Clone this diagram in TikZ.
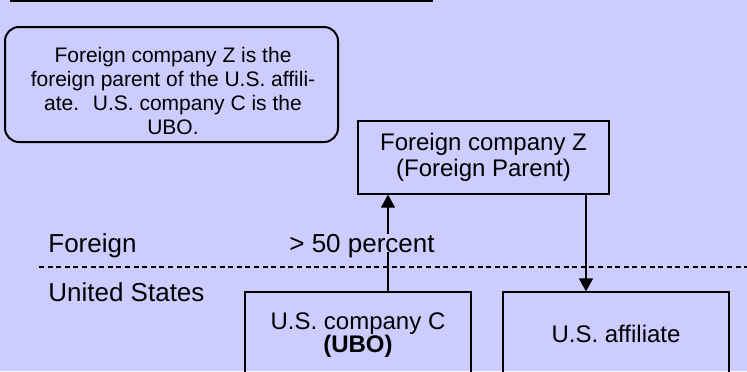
\documentclass[tikz,border=0pt]{standalone}
\usepackage{fontspec}
\setmainfont{Liberation Sans}
\usetikzlibrary{arrows.meta,positioning,calc}
\definecolor{bgblue}{RGB}{204,204,255}

\begin{document}
\begin{tikzpicture}[x=0.5pt,y=-0.5pt,
 firmbox/.style={draw,line width=0.6pt,inner sep=0pt,align=center,font=\fontsize{12}{13.2}\selectfont},
 lbl/.style={inner sep=0pt,font=\fontsize{13}{15}\selectfont},
 arr/.style={line width=0.6pt,-{Triangle[length=6.5pt,width=7pt]}}]
\fill[bgblue] (0,0) rectangle (747,371);
\useasboundingbox (0,0) rectangle (747,371);
\clip (0,0) rectangle (747,371);
\draw[line width=1.5pt] (10,0) -- (433,0);
% note box
\node[draw,line width=1pt,rounded corners=7pt,minimum width=166.5pt,minimum height=57.5pt] (note) at (171.5,84.5) {};
\node[align=center,inner sep=0pt,font=\fontsize{10.5}{12}\selectfont] (notetxt) at (173,90.5) {Foreign company Z is the\\foreign parent of the U.S. affili-\\ate.~ U.S. company C is the\\UBO.};
% firms
\node[firmbox,minimum width=125.5pt,minimum height=36.5pt] (zpar) at (483.5,157.5) {Foreign company Z\\(Foreign Parent)};
\node[firmbox,minimum width=113pt,minimum height=43pt] (ubo) at (358,335) {U.S. company C\\[-2pt]\textbf{(UBO)}};
\node[firmbox,minimum width=113pt,minimum height=42pt] (aff) at (616,334) {U.S. affiliate};
% border
\coordinate (bl) at (39,267); \coordinate (br) at (747,267);
\draw[line width=0.6pt,dash pattern=on 2.5pt off 1.8pt] (bl) -- (br);
\node[lbl,anchor=base west] (fgn) at (48,252) {Foreign};
\node[lbl,anchor=base west] (usa) at (48,301) {United States};
% ownership links
\coordinate (upx) at (388,0); \coordinate (dnx) at (586,0);
\draw[arr] (upx |- ubo.north) -- (upx |- zpar.south);
\draw[arr] (dnx |- zpar.south) -- (dnx |- aff.north);
\node[lbl,anchor=base,fill=bgblue,text depth=0pt] (pct) at (362,252) {> 50 percent};
\end{tikzpicture}
\end{document}
